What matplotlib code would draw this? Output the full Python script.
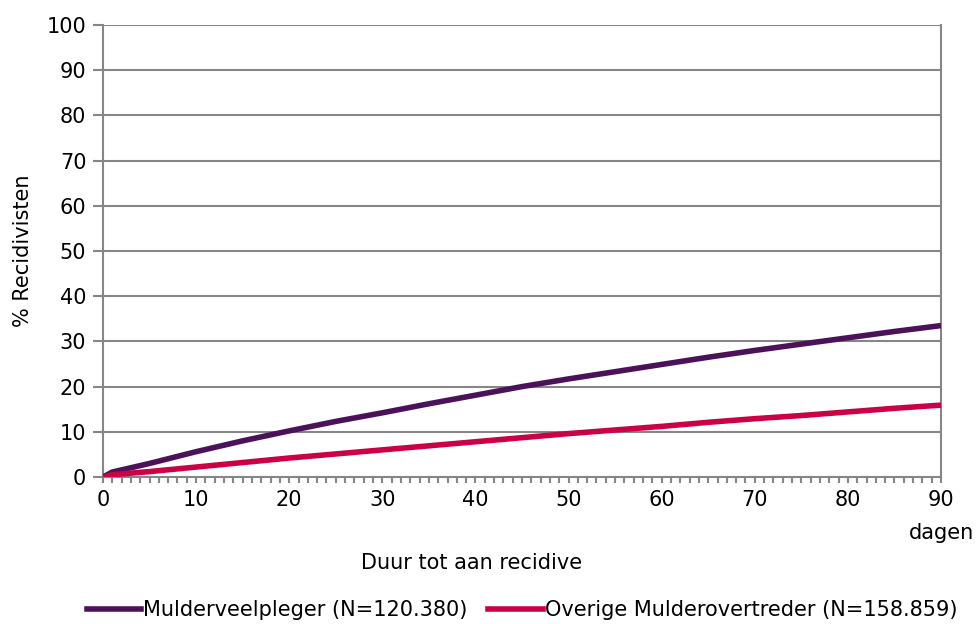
import matplotlib
matplotlib.use("Agg")
import matplotlib.pyplot as plt
from matplotlib.ticker import MultipleLocator
from matplotlib.lines import Line2D

plt.rcParams['font.family'] = ['DejaVu Sans']

days = [0, 1, 5, 10, 15, 20, 25, 30, 35, 40, 45, 50, 55, 60, 65, 70, 75, 80, 85, 90]
veelpleger = [0, 1.1, 3.0, 5.6, 8.0, 10.2, 12.3, 14.2, 16.2, 18.1, 20.0, 21.7, 23.3,
              24.9, 26.5, 28.0, 29.4, 30.8, 32.2, 33.5]
overige = [0, 0.5, 1.2, 2.2, 3.2, 4.2, 5.1, 6.0, 6.9, 7.8, 8.7, 9.6, 10.4,
           11.2, 12.1, 12.9, 13.6, 14.4, 15.2, 15.9]
labels = ["Mulderveelpleger (N=120.380)", "Overige Mulderovertreder (N=158.859)"]
colors = ["#4B1259", "#CC0044"]
yticks = list(range(0, 101, 10))
xticks = list(range(0, 91, 10))

FS = 15

fig = plt.figure(figsize=(9.77, 6.24), dpi=100)
ax = fig.add_axes([103/977, 1 - 477/624, (941-103)/977, (477-25)/624])

grid_c = "#868686"
for y in yticks[1:]:
    ax.axhline(y, color=grid_c, lw=1.5, zorder=1)

ax.plot(days, veelpleger, color=colors[0], lw=4.0, zorder=3, solid_capstyle='butt')
ax.plot(days, overige, color=colors[1], lw=4.0, zorder=3, solid_capstyle='butt')

ax.set_xlim(0, 90)
ax.set_ylim(0, 100)
ax.set_xticks(xticks)
ax.set_yticks(yticks)
ax.xaxis.set_minor_locator(MultipleLocator(1))
ax.tick_params(axis='x', which='both', direction='out', length=4, width=1.5,
               color=grid_c, labelsize=FS, pad=5)
ax.tick_params(axis='y', which='major', direction='out', length=7, width=1.5,
               color=grid_c, labelsize=FS, pad=5)
for s in ['left', 'right', 'bottom']:
    ax.spines[s].set_color(grid_c)
    ax.spines[s].set_linewidth(1.5)
ax.spines['top'].set_visible(False)

ax.set_ylabel("% Recidivisten", fontsize=FS, labelpad=10)
fig.text(472/977, 1 - 563/624, "Duur tot aan recidive", fontsize=FS, ha='center', va='center')
fig.text(941/977, 1 - 533/624, "dagen", fontsize=FS, ha='center', va='center')

handles = [Line2D([0], [0], color=c, lw=4.0) for c in colors]
fig.legend(handles, labels, loc='center', bbox_to_anchor=(522/977, 1 - 610/624),
           ncol=2, frameon=False, fontsize=FS, handlelength=2.6,
           handletextpad=0.1, columnspacing=1.0)

fig.savefig("out.png", dpi=100)
